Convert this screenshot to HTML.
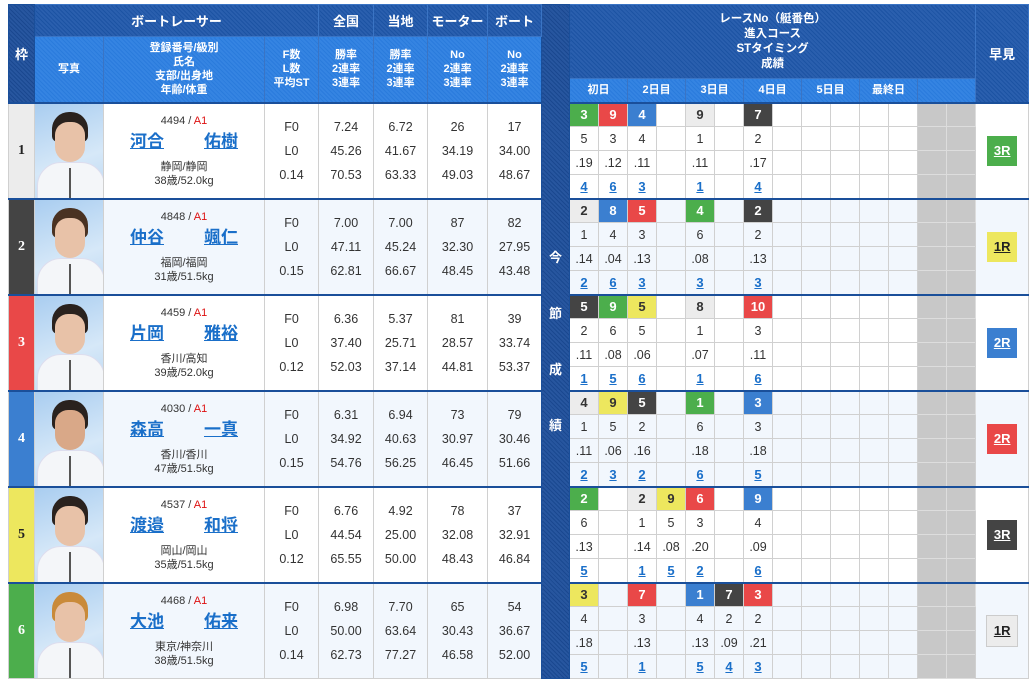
<!DOCTYPE html>
<html><head><meta charset="utf-8"><style>
body{margin:0;width:1033px;height:682px;background:#fff;overflow:hidden;font-family:"Liberation Sans","Noto Sans CJK JP",sans-serif;}
table{position:absolute;left:8px;top:4px;border-collapse:collapse;table-layout:fixed;width:1020px;border:1px solid #1a4f9a}
td,th{padding:0;text-align:center;vertical-align:middle;border:1px solid #d0d0d0;font-size:12.5px;color:#333;overflow:hidden}
th{color:#fff;font-weight:bold;border:1px solid #3a74c4}
th.a{background:repeating-linear-gradient(45deg,#1c53a3 0 1px,#2a5fae 1px 3px);font-size:13px}
th.b{background:repeating-linear-gradient(45deg,#2a7bdc 0 1px,#3584e2 1px 3px);font-size:11px;line-height:14px}
th.k{background:repeating-linear-gradient(45deg,#1a4890 0 1px,#27569f 1px 3px);font-size:13px;border-color:#1a4f9a}
tr.h1{height:32px}tr.h2{height:42px}tr.h3{height:24px}
tr.d{height:24px}
tr.t td{border-top:2px solid #1a4f9a}
tr.e td{background:#f2f7fd}
td.w{font-weight:bold;font-size:14px;font-family:"Liberation Serif","Noto Serif CJK SC",serif;color:#222;border-top:2px solid #1a4f9a}
.w1{background:#ececec!important}.w2{background:#444!important;color:#fff!important}.w3{background:#e94848!important;color:#fff!important}.w4{background:#3b7fd0!important;color:#fff!important}.w5{background:#ede75e!important}.w6{background:#4cae4c!important;color:#fff!important}
td.ph{padding:0;border-top:2px solid #1a4f9a}
.p{position:relative;width:68px;height:94px;background:linear-gradient(160deg,#a9cdf0,#d6e8f8 60%,#bcd8f2);overflow:hidden}
.p .hr{position:absolute;left:17px;top:8px;width:36px;height:30px;border-radius:17px 17px 6px 6px;background:#2a221e}
.p .fc{position:absolute;left:20px;top:18px;width:30px;height:40px;border-radius:13px 13px 15px 15px;background:#e8c2a8}
.p .bd{position:absolute;left:2px;top:58px;width:66px;height:50px;border-radius:24px 24px 0 0;background:#f4f6f9;border:1px solid #dde}
.p .zp{position:absolute;left:34px;top:64px;width:2px;height:32px;background:#555}
.nm{font-size:11px;line-height:14px;border-top:2px solid #1a4f9a}
.nm .r{color:#d11}
.nm a{display:flex;justify-content:space-between;width:108px;margin:4px auto 8px;color:#1a6fc9;font-weight:bold;font-size:17px;line-height:20px;text-decoration:underline}
.s{line-height:24px;font-size:12.5px;vertical-align:middle}
td.kon{background:repeating-linear-gradient(45deg,#1a4890 0 1px,#27569f 1px 3px);color:#fff;font-weight:bold;font-size:13px;line-height:56px;border-color:#1a4f9a}
td.gr{background:#c8c8c8!important;border-color:#ddd}
td.b{font-weight:bold;font-size:13px}
td.u{color:#1a6fc9;font-weight:bold;text-decoration:underline;font-size:13px}
td.hy{border-top:2px solid #1a4f9a}
.bg{display:inline-block;width:30px;height:30px;line-height:30px;font-weight:bold;font-size:13px;text-decoration:underline;color:#fff}
</style></head><body>
<table>
<colgroup><col style="width:26px"><col style="width:69px"><col style="width:161px"><col style="width:54px"><col style="width:55px"><col style="width:54px"><col style="width:60px"><col style="width:54px"><col style="width:28px">
<col style="width:29px"><col style="width:29px"><col style="width:29px"><col style="width:29px"><col style="width:29px"><col style="width:29px"><col style="width:29px"><col style="width:29px"><col style="width:29px"><col style="width:29px"><col style="width:29px"><col style="width:29px"><col style="width:29px"><col style="width:29px"><col style="width:53px"></colgroup>
<tr class="h1"><th class="k" rowspan="3">枠</th><th class="a" colspan="3">ボートレーサー</th><th class="a">全国</th><th class="a">当地</th><th class="a">モーター</th><th class="a">ボート</th><td class="kon" rowspan="27">今<br>節<br>成<br>績</td><th class="a" colspan="14" rowspan="2" style="font-size:11.5px;line-height:15px">レースNo（艇番色）<br>進入コース<br>STタイミング<br>成績</th><th class="a" rowspan="3">早見</th></tr>
<tr class="h2"><th class="b" rowspan="2">写真</th><th class="b" rowspan="2">登録番号/級別<br>氏名<br>支部/出身地<br>年齢/体重</th><th class="b" rowspan="2">F数<br>L数<br>平均ST</th><th class="b" rowspan="2">勝率<br>2連率<br>3連率</th><th class="b" rowspan="2">勝率<br>2連率<br>3連率</th><th class="b" rowspan="2">No<br>2連率<br>3連率</th><th class="b" rowspan="2">No<br>2連率<br>3連率</th></tr>
<tr class="h3"><th class="b" colspan="2">初日</th><th class="b" colspan="2">2日目</th><th class="b" colspan="2">3日目</th><th class="b" colspan="2">4日目</th><th class="b" colspan="2">5日目</th><th class="b" colspan="2">最終日</th><th class="b" colspan="2"></th></tr>

<!-- 1 -->
<tr class="d t"><td class="w w1" rowspan="4">1</td><td class="ph" rowspan="4"><div class="p"><div class="hr"></div><div class="fc"></div><div class="bd"></div><div class="zp"></div></div></td><td class="nm" rowspan="4">4494 / <span class="r">A1</span><a><span>河合</span><span>佑樹</span></a>静岡/静岡<br>38歳/52.0kg</td><td class="s" rowspan="4">F0<br>L0<br>0.14</td><td class="s" rowspan="4">7.24<br>45.26<br>70.53</td><td class="s" rowspan="4">6.72<br>41.67<br>63.33</td><td class="s" rowspan="4">26<br>34.19<br>49.03</td><td class="s" rowspan="4">17<br>34.00<br>48.67</td>
<td class="b w6">3</td><td class="b w3">9</td><td class="b w4">4</td><td></td><td class="b w1">9</td><td></td><td class="b w2">7</td><td></td><td></td><td></td><td></td><td></td><td class="gr"></td><td class="gr"></td><td class="hy" rowspan="4"><span class="bg" style="background:#4cae4c">3R</span></td></tr>
<tr class="d"><td>5</td><td>3</td><td>4</td><td></td><td>1</td><td></td><td>2</td><td></td><td></td><td></td><td></td><td></td><td class="gr"></td><td class="gr"></td></tr>
<tr class="d"><td>.19</td><td>.12</td><td>.11</td><td></td><td>.11</td><td></td><td>.17</td><td></td><td></td><td></td><td></td><td></td><td class="gr"></td><td class="gr"></td></tr>
<tr class="d"><td class="u">4</td><td class="u">6</td><td class="u">3</td><td></td><td class="u">1</td><td></td><td class="u">4</td><td></td><td></td><td></td><td></td><td></td><td class="gr"></td><td class="gr"></td></tr>

<!-- 2 -->
<tr class="d t e"><td class="w w2" rowspan="4">2</td><td class="ph" rowspan="4"><div class="p"><div class="hr" style="background:#4a3222"></div><div class="fc"></div><div class="bd"></div><div class="zp"></div></div></td><td class="nm" rowspan="4">4848 / <span class="r">A1</span><a><span>仲谷</span><span>颯仁</span></a>福岡/福岡<br>31歳/51.5kg</td><td class="s" rowspan="4">F0<br>L0<br>0.15</td><td class="s" rowspan="4">7.00<br>47.11<br>62.81</td><td class="s" rowspan="4">7.00<br>45.24<br>66.67</td><td class="s" rowspan="4">87<br>32.30<br>48.45</td><td class="s" rowspan="4">82<br>27.95<br>43.48</td>
<td class="b w1">2</td><td class="b w4">8</td><td class="b w3">5</td><td></td><td class="b w6">4</td><td></td><td class="b w2">2</td><td></td><td></td><td></td><td></td><td></td><td class="gr"></td><td class="gr"></td><td class="hy" rowspan="4"><span class="bg" style="background:#ede75e;color:#222">1R</span></td></tr>
<tr class="d e"><td>1</td><td>4</td><td>3</td><td></td><td>6</td><td></td><td>2</td><td></td><td></td><td></td><td></td><td></td><td class="gr"></td><td class="gr"></td></tr>
<tr class="d e"><td>.14</td><td>.04</td><td>.13</td><td></td><td>.08</td><td></td><td>.13</td><td></td><td></td><td></td><td></td><td></td><td class="gr"></td><td class="gr"></td></tr>
<tr class="d e"><td class="u">2</td><td class="u">6</td><td class="u">3</td><td></td><td class="u">3</td><td></td><td class="u">3</td><td></td><td></td><td></td><td></td><td></td><td class="gr"></td><td class="gr"></td></tr>

<!-- 3 -->
<tr class="d t"><td class="w w3" rowspan="4">3</td><td class="ph" rowspan="4"><div class="p"><div class="hr"></div><div class="fc"></div><div class="bd"></div><div class="zp"></div></div></td><td class="nm" rowspan="4">4459 / <span class="r">A1</span><a><span>片岡</span><span>雅裕</span></a>香川/高知<br>39歳/52.0kg</td><td class="s" rowspan="4">F0<br>L0<br>0.12</td><td class="s" rowspan="4">6.36<br>37.40<br>52.03</td><td class="s" rowspan="4">5.37<br>25.71<br>37.14</td><td class="s" rowspan="4">81<br>28.57<br>44.81</td><td class="s" rowspan="4">39<br>33.74<br>53.37</td>
<td class="b w2">5</td><td class="b w6">9</td><td class="b w5">5</td><td></td><td class="b w1">8</td><td></td><td class="b w3">10</td><td></td><td></td><td></td><td></td><td></td><td class="gr"></td><td class="gr"></td><td class="hy" rowspan="4"><span class="bg" style="background:#3b7fd0">2R</span></td></tr>
<tr class="d"><td>2</td><td>6</td><td>5</td><td></td><td>1</td><td></td><td>3</td><td></td><td></td><td></td><td></td><td></td><td class="gr"></td><td class="gr"></td></tr>
<tr class="d"><td>.11</td><td>.08</td><td>.06</td><td></td><td>.07</td><td></td><td>.11</td><td></td><td></td><td></td><td></td><td></td><td class="gr"></td><td class="gr"></td></tr>
<tr class="d"><td class="u">1</td><td class="u">5</td><td class="u">6</td><td></td><td class="u">1</td><td></td><td class="u">6</td><td></td><td></td><td></td><td></td><td></td><td class="gr"></td><td class="gr"></td></tr>

<!-- 4 -->
<tr class="d t e"><td class="w w4" rowspan="4">4</td><td class="ph" rowspan="4"><div class="p"><div class="hr"></div><div class="fc" style="background:#d9a888"></div><div class="bd"></div><div class="zp"></div></div></td><td class="nm" rowspan="4">4030 / <span class="r">A1</span><a><span>森高</span><span>一真</span></a>香川/香川<br>47歳/51.5kg</td><td class="s" rowspan="4">F0<br>L0<br>0.15</td><td class="s" rowspan="4">6.31<br>34.92<br>54.76</td><td class="s" rowspan="4">6.94<br>40.63<br>56.25</td><td class="s" rowspan="4">73<br>30.97<br>46.45</td><td class="s" rowspan="4">79<br>30.46<br>51.66</td>
<td class="b w1">4</td><td class="b w5">9</td><td class="b w2">5</td><td></td><td class="b w6">1</td><td></td><td class="b w4">3</td><td></td><td></td><td></td><td></td><td></td><td class="gr"></td><td class="gr"></td><td class="hy" rowspan="4"><span class="bg" style="background:#e94848">2R</span></td></tr>
<tr class="d e"><td>1</td><td>5</td><td>2</td><td></td><td>6</td><td></td><td>3</td><td></td><td></td><td></td><td></td><td></td><td class="gr"></td><td class="gr"></td></tr>
<tr class="d e"><td>.11</td><td>.06</td><td>.16</td><td></td><td>.18</td><td></td><td>.18</td><td></td><td></td><td></td><td></td><td></td><td class="gr"></td><td class="gr"></td></tr>
<tr class="d e"><td class="u">2</td><td class="u">3</td><td class="u">2</td><td></td><td class="u">6</td><td></td><td class="u">5</td><td></td><td></td><td></td><td></td><td></td><td class="gr"></td><td class="gr"></td></tr>

<!-- 5 -->
<tr class="d t"><td class="w w5" rowspan="4">5</td><td class="ph" rowspan="4"><div class="p"><div class="hr"></div><div class="fc"></div><div class="bd"></div><div class="zp"></div></div></td><td class="nm" rowspan="4">4537 / <span class="r">A1</span><a><span>渡邉</span><span>和将</span></a>岡山/岡山<br>35歳/51.5kg</td><td class="s" rowspan="4">F0<br>L0<br>0.12</td><td class="s" rowspan="4">6.76<br>44.54<br>65.55</td><td class="s" rowspan="4">4.92<br>25.00<br>50.00</td><td class="s" rowspan="4">78<br>32.08<br>48.43</td><td class="s" rowspan="4">37<br>32.91<br>46.84</td>
<td class="b w6">2</td><td></td><td class="b w1">2</td><td class="b w5">9</td><td class="b w3">6</td><td></td><td class="b w4">9</td><td></td><td></td><td></td><td></td><td></td><td class="gr"></td><td class="gr"></td><td class="hy" rowspan="4"><span class="bg" style="background:#444">3R</span></td></tr>
<tr class="d"><td>6</td><td></td><td>1</td><td>5</td><td>3</td><td></td><td>4</td><td></td><td></td><td></td><td></td><td></td><td class="gr"></td><td class="gr"></td></tr>
<tr class="d"><td>.13</td><td></td><td>.14</td><td>.08</td><td>.20</td><td></td><td>.09</td><td></td><td></td><td></td><td></td><td></td><td class="gr"></td><td class="gr"></td></tr>
<tr class="d"><td class="u">5</td><td></td><td class="u">1</td><td class="u">5</td><td class="u">2</td><td></td><td class="u">6</td><td></td><td></td><td></td><td></td><td></td><td class="gr"></td><td class="gr"></td></tr>

<!-- 6 -->
<tr class="d t e"><td class="w w6" rowspan="4">6</td><td class="ph" rowspan="4"><div class="p"><div class="hr" style="background:#c98a3a"></div><div class="fc"></div><div class="bd"></div><div class="zp"></div></div></td><td class="nm" rowspan="4">4468 / <span class="r">A1</span><a><span>大池</span><span>佑来</span></a>東京/神奈川<br>38歳/51.5kg</td><td class="s" rowspan="4">F0<br>L0<br>0.14</td><td class="s" rowspan="4">6.98<br>50.00<br>62.73</td><td class="s" rowspan="4">7.70<br>63.64<br>77.27</td><td class="s" rowspan="4">65<br>30.43<br>46.58</td><td class="s" rowspan="4">54<br>36.67<br>52.00</td>
<td class="b w5">3</td><td></td><td class="b w3">7</td><td></td><td class="b w4">1</td><td class="b w2">7</td><td class="b w3">3</td><td></td><td></td><td></td><td></td><td></td><td class="gr"></td><td class="gr"></td><td class="hy" rowspan="4"><span class="bg" style="background:#ececec;color:#222;border:1px solid #ccc">1R</span></td></tr>
<tr class="d e"><td>4</td><td></td><td>3</td><td></td><td>4</td><td>2</td><td>2</td><td></td><td></td><td></td><td></td><td></td><td class="gr"></td><td class="gr"></td></tr>
<tr class="d e"><td>.18</td><td></td><td>.13</td><td></td><td>.13</td><td>.09</td><td>.21</td><td></td><td></td><td></td><td></td><td></td><td class="gr"></td><td class="gr"></td></tr>
<tr class="d e"><td class="u">5</td><td></td><td class="u">1</td><td></td><td class="u">5</td><td class="u">4</td><td class="u">3</td><td></td><td></td><td></td><td></td><td></td><td class="gr"></td><td class="gr"></td></tr>
</table>
</body></html>
